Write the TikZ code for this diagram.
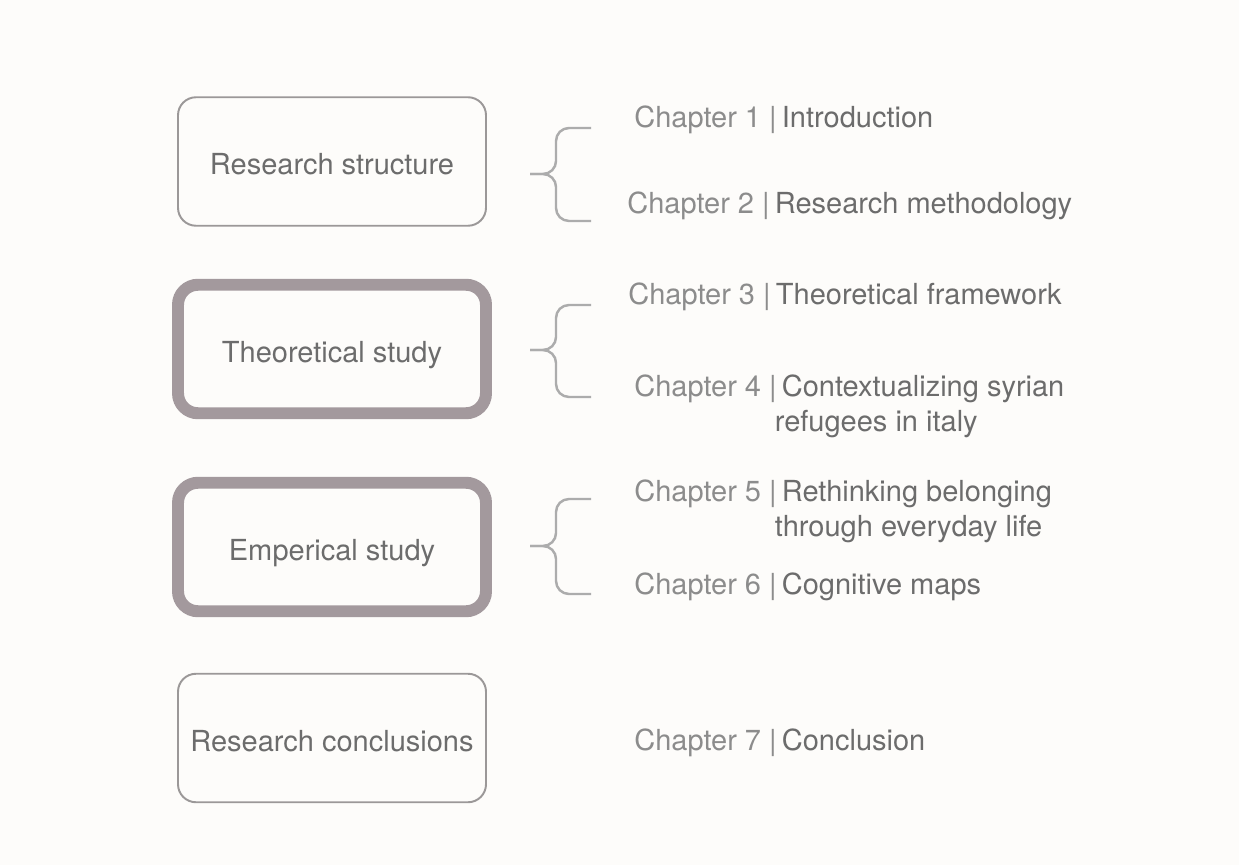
\documentclass[tikz,border=0pt]{standalone}
\usepackage{fontspec}
\setmainfont{TeX Gyre Heros}
\usetikzlibrary{positioning}
\definecolor{paper}{RGB}{253,252,250}
\definecolor{boxline}{RGB}{155,152,152}
\definecolor{heavyline}{RGB}{163,153,157}
\definecolor{bracegrey}{RGB}{172,172,172}
\definecolor{labelgrey}{RGB}{108,108,108}
\definecolor{numgrey}{RGB}{140,140,140}
\tikzstyle{part} = [rectangle, rounded corners=0.36cm, minimum width=6.16cm, minimum height=2.57cm, draw=boxline, line width=1.1pt, text=labelgrey, text height=15pt, text depth=0pt, font=\fontsize{16.5}{20}\selectfont]
\tikzstyle{mainpart} = [part, draw=heavyline, line width=6.8pt, rounded corners=0.4cm]
\tikzstyle{chapter} = [anchor=base west, inner sep=0pt, text=labelgrey, font=\fontsize{16.5}{20}\selectfont]
\tikzstyle{bracket} = [draw=bracegrey, line width=1.4pt, rounded corners=0.26cm]
\newcommand\chapno[1]{\textcolor{numgrey}{Chapter #1 \textbar}\hspace{0.18em}}
\newcommand\chapbrace[3]{%
	\draw [bracket] (11.82,#1) -- (11.12,#1) -- (11.12,#2) -- (10.6,#2);
	\draw [bracket] (11.82,#3) -- (11.12,#3) -- (11.12,#2) -- (10.6,#2);
}

\begin{document}
\begin{tikzpicture}
\fill [paper] (0,0) rectangle (24.78,-17.3);

% Placement of part boxes
\node (structure) [part] at (6.64,-3.23) {Research structure};
\node (theory) [mainpart, below of=structure, node distance=3.8cm, yshift=0.05cm] {Theoretical study};
\node (empirical) [mainpart, below of=theory, node distance=3.8cm, yshift=-0.16cm] {Emperical study};
\node (conclusions) [part, below of=empirical, node distance=3.8cm, yshift=-0.02cm] {Research conclusions};

% Placement of chapters
\node (ch1) [chapter] at (12.68,-2.56) {\chapno{1}Introduction};
\node (ch2) [chapter] at (12.54,-4.28) {\chapno{2}Research methodology};
\node (ch3) [chapter] at (12.56,-6.10) {\chapno{3}Theoretical framework};
\node (ch4) [chapter] at (12.68,-7.92) {\chapno{4}\begin{tabular}[t]{@{}l@{}}Contextualizing syrian\\\hspace*{-0.14cm}refugees in italy\end{tabular}};
\node (ch5) [chapter] at (12.68,-10.02) {\chapno{5}\begin{tabular}[t]{@{}l@{}}Rethinking belonging\\\hspace*{-0.14cm}through everyday life\end{tabular}};
\node (ch6) [chapter] at (12.68,-11.88) {\chapno{6}Cognitive maps};
\node (ch7) [chapter] at (12.68,-15.0) {\chapno{7}Conclusion};

% Braces grouping the chapters
\chapbrace{-2.56}{-3.48}{-4.42}
\chapbrace{-6.10}{-7.00}{-7.94}
\chapbrace{-9.98}{-10.92}{-11.88}
\end{tikzpicture}
\end{document}
